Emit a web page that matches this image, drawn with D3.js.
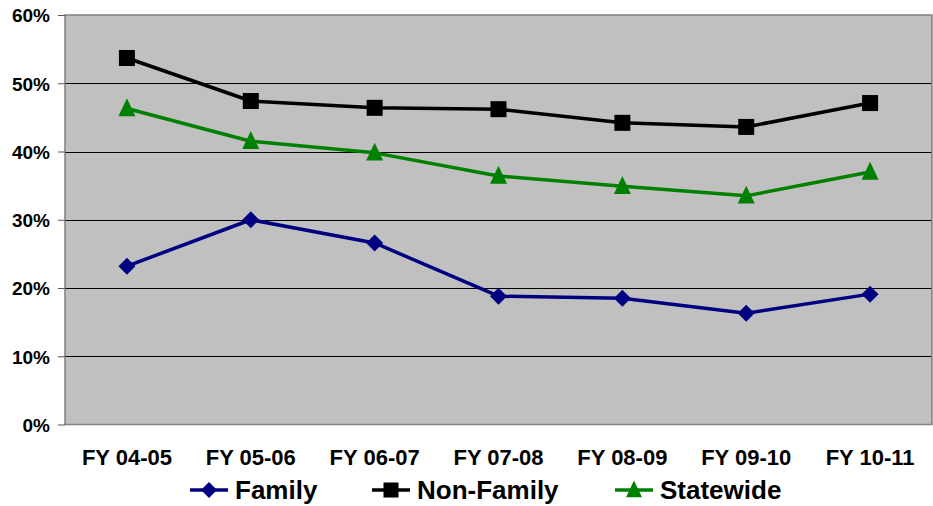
<!DOCTYPE html>
<html>
<head>
<meta charset="utf-8">
<script src="https://cdn.jsdelivr.net/npm/d3@7"></script>
<style>
  body { margin: 0; background: #fff; }
  text { font-family: 'Liberation Sans', Arial, sans-serif; font-weight: bold; fill: #000; }
</style>
</head>
<body>
<div id="graf"></div>
<script>
// datos
const years = ['FY 04-05', 'FY 05-06', 'FY 06-07', 'FY 07-08', 'FY 08-09', 'FY 09-10', 'FY 10-11']
const family = [23.2, 30.0, 26.6, 18.8, 18.5, 16.3, 19.1]
const nonFamily = [53.7, 47.4, 46.4, 46.2, 44.2, 43.6, 47.1]
const statewide = [46.3, 41.5, 39.8, 36.4, 34.9, 33.5, 37.0]
const yTicks = [0, 10, 20, 30, 40, 50, 60]

const series = [
  { name: 'Family', values: family, color: '#000080', marker: 'diamond' },
  { name: 'Non-Family', values: nonFamily, color: '#000000', marker: 'square' },
  { name: 'Statewide', values: statewide, color: '#008000', marker: 'triangle' },
]

const anchoTotal = 933
const altoTotal = 506
const margin = { top: 15, bottom: 81.5, left: 65, right: 1 }
const ancho = anchoTotal - margin.left - margin.right
const alto = altoTotal - margin.top - margin.bottom

const svg = d3.select('#graf')
  .append('svg')
  .attr('width', anchoTotal)
  .attr('height', altoTotal)

const g = svg.append('g')
  .attr('transform', `translate(${margin.left}, ${margin.top})`)

// escaladores
const x = d3.scaleBand().domain(years).range([0, ancho])
const y = d3.scaleLinear().domain([0, 60]).range([alto, 0])

g.append('rect')
  .attr('x', 0).attr('y', 0)
  .attr('width', ancho).attr('height', alto)
  .attr('fill', '#c0c0c0')

// grid
g.selectAll('.grid')
  .data(yTicks.filter((d) => d > 0 && d < 60))
  .enter()
  .append('line')
  .attr('x1', 0).attr('x2', ancho)
  .attr('y1', (d) => Math.round(y(d)) + 0.5)
  .attr('y2', (d) => Math.round(y(d)) + 0.5)
  .attr('stroke', '#000')
  .attr('stroke-width', 1)

g.append('rect')
  .attr('x', 0).attr('y', 0)
  .attr('width', ancho).attr('height', alto)
  .attr('fill', 'none')
  .attr('stroke', '#808080')
  .attr('stroke-width', 1.5)

// eje y
const ejeY = g.append('g')
  .call(d3.axisLeft(y).tickValues(yTicks).tickSize(7).tickPadding(8).tickFormat((d) => d + '%'))
ejeY.select('.domain').remove()
ejeY.selectAll('line').attr('stroke', '#555')
ejeY.selectAll('text').attr('font-size', 19).attr('dy', '0.36em')

// eje x
const ejeX = g.append('g')
  .attr('transform', `translate(0, ${alto})`)
  .call(d3.axisBottom(x).tickSize(0).tickPadding(25))
ejeX.select('.domain').remove()
ejeX.selectAll('text').attr('font-size', 22)

// marcadores
function marcador(sel, tipo, s, color) {
  if (tipo === 'square') {
    sel.append('rect')
      .attr('x', -s / 2).attr('y', -s / 2)
      .attr('width', s).attr('height', s)
      .attr('fill', color)
  } else if (tipo === 'diamond') {
    sel.append('path')
      .attr('d', `M0,${-s / 2}L${s / 2},0L0,${s / 2}L${-s / 2},0Z`)
      .attr('fill', color)
  } else {
    sel.append('path')
      .attr('d', `M0,${-s * 0.6}L${s / 2},${s * 0.45}L${-s / 2},${s * 0.45}Z`)
      .attr('fill', color)
  }
}

const linea = d3.line()
  .x((d, i) => x(years[i]) + x.bandwidth() / 2)
  .y((d) => y(d))

series.forEach((s) => {
  g.append('path')
    .datum(s.values)
    .attr('d', linea)
    .attr('fill', 'none')
    .attr('stroke', s.color)
    .attr('stroke-width', 3.5)
    .attr('stroke-linejoin', 'round')

  s.values.forEach((v, i) => {
    const m = g.append('g')
      .attr('transform', `translate(${x(years[i]) + x.bandwidth() / 2}, ${y(v)})`)
    marcador(m, s.marker, s.marker === 'square' ? 16 : 17, s.color)
  })
})

// leyenda
const legX = [190, 372, 615]
const legY = 490
series.forEach((s, i) => {
  const lg = svg.append('g').attr('transform', `translate(${legX[i]}, ${legY})`)
  lg.append('line')
    .attr('x1', 0).attr('x2', 38)
    .attr('y1', 0).attr('y2', 0)
    .attr('stroke', s.color)
    .attr('stroke-width', 3.5)
  const m = lg.append('g').attr('transform', 'translate(19, 0)')
  marcador(m, s.marker, s.marker === 'square' ? 15 : 16, s.color)
  lg.append('text')
    .attr('x', 45)
    .attr('dy', '0.33em')
    .attr('font-size', 26)
    .text(s.name)
})
</script>
</body>
</html>
